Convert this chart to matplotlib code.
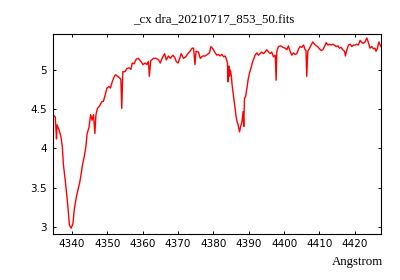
import matplotlib
matplotlib.use("Agg")
import matplotlib.pyplot as plt
from matplotlib.ticker import FuncFormatter

wavelength = [
    4334.8, 4335.3, 4335.65, 4335.8, 4336.4, 4336.9, 4337.3, 4337.6, 4338.1, 4338.6,
    4339.0, 4339.3, 4339.8, 4340.3, 4340.65, 4341.1, 4341.6, 4342.15, 4342.5, 4343.0,
    4343.6, 4344.0, 4344.3, 4344.8, 4345.3, 4345.7, 4346.1, 4346.5, 4346.8, 4347.2,
    4347.8, 4348.5, 4348.9, 4349.4, 4349.9, 4350.5, 4350.9, 4351.4, 4352.0, 4352.4,
    4352.9, 4353.5, 4353.85, 4354.1, 4354.4, 4355.0, 4355.55, 4356.1, 4356.7, 4357.05,
    4357.6, 4358.2, 4358.8, 4359.5, 4360.1, 4360.7, 4361.2, 4361.65, 4361.9, 4362.3,
    4363.1, 4363.8, 4364.5, 4365.0, 4365.4, 4366.2, 4366.7, 4367.3, 4367.8, 4368.55,
    4369.1, 4369.5, 4370.05, 4370.4, 4370.9, 4371.55, 4372.2, 4372.8, 4373.4, 4374.0,
    4374.4, 4374.8, 4375.1, 4375.8, 4376.3, 4377.0, 4377.7, 4378.3, 4378.9, 4379.3,
    4379.9, 4380.5, 4381.0, 4381.4, 4381.9, 4382.4, 4382.9, 4383.3, 4383.6, 4384.0,
    4384.1, 4384.4, 4384.55, 4384.8, 4385.1, 4385.3, 4385.6, 4385.9, 4386.2, 4386.45,
    4386.7, 4387.0, 4387.4, 4387.7, 4388.1, 4388.4, 4388.6, 4388.8, 4389.1, 4389.5,
    4389.8, 4390.2, 4390.6, 4391.0, 4391.3, 4391.8, 4392.3, 4392.75, 4393.2, 4393.7,
    4394.2, 4394.6, 4395.1, 4395.6, 4396.1, 4396.5, 4397.0, 4397.5, 4397.75, 4397.95,
    4398.4, 4399.1, 4399.65, 4400.3, 4400.8, 4401.2, 4401.7, 4402.2, 4402.6, 4403.1,
    4403.6, 4404.1, 4404.5, 4405.0, 4405.5, 4405.95, 4406.2, 4406.4, 4406.7, 4407.2,
    4407.65, 4408.1, 4408.6, 4409.1, 4409.5, 4410.0, 4410.5, 4410.96, 4411.4, 4411.9,
    4412.4, 4412.8, 4413.3, 4413.8, 4414.2, 4414.7, 4415.2, 4415.65, 4416.1, 4416.6,
    4417.1, 4417.35, 4417.7, 4418.2, 4418.7, 4419.15, 4419.6, 4420.1, 4420.6, 4421.0,
    4421.5, 4422.0, 4422.4, 4422.9, 4423.4, 4423.85, 4424.3, 4424.8, 4425.3, 4425.7,
    4426.0, 4426.4, 4426.8, 4427.15, 4427.4,
]
flux = [
    4.42, 4.40, 4.12, 4.30, 4.23, 4.15, 4.02, 3.79, 3.60, 3.38,
    3.19, 3.02, 2.98, 3.04, 3.21, 3.34, 3.45, 3.55, 3.64, 3.79,
    3.92, 4.04, 4.19, 4.26, 4.43, 4.36, 4.43, 4.19, 4.43, 4.51,
    4.54, 4.60, 4.60, 4.68, 4.77, 4.79, 4.77, 4.85, 4.92, 4.94,
    4.92, 4.90, 4.88, 4.51, 4.98, 4.98, 5.02, 5.03, 5.01, 5.09,
    5.08, 5.14, 5.15, 5.11, 5.07, 5.09, 5.07, 5.11, 4.92, 5.12,
    5.15, 5.15, 5.13, 5.09, 5.14, 5.21, 5.13, 5.18, 5.15, 5.19,
    5.16, 5.11, 5.09, 5.14, 5.21, 5.15, 5.17, 5.21, 5.24, 5.28,
    5.28, 5.07, 5.24, 5.23, 5.15, 5.18, 5.18, 5.20, 5.22, 5.30,
    5.27, 5.22, 5.19, 5.20, 5.18, 5.20, 5.17, 5.18, 5.15, 5.09,
    4.85, 5.05, 4.92, 5.00, 4.92, 4.81, 4.70, 4.60, 4.49, 4.40,
    4.34, 4.30, 4.21, 4.28, 4.34, 4.47, 4.28, 4.64, 4.66, 4.77,
    4.87, 4.96, 5.02, 5.09, 5.13, 5.19, 5.22, 5.19, 5.21, 5.23,
    5.21, 5.23, 5.26, 5.23, 5.21, 5.23, 5.17, 5.19, 4.87, 5.24,
    5.30, 5.31, 5.29, 5.28, 5.26, 5.31, 5.24, 5.19, 5.22, 5.20,
    5.21, 5.27, 5.30, 5.29, 5.32, 5.26, 5.25, 4.92, 5.24, 5.28,
    5.32, 5.36, 5.33, 5.31, 5.30, 5.27, 5.25, 5.26, 5.30, 5.35,
    5.32, 5.33, 5.32, 5.33, 5.32, 5.30, 5.31, 5.28, 5.29, 5.26,
    5.24, 5.18, 5.25, 5.32, 5.33, 5.30, 5.32, 5.32, 5.33, 5.32,
    5.38, 5.35, 5.34, 5.36, 5.41, 5.35, 5.28, 5.30, 5.27, 5.28,
    5.24, 5.28, 5.36, 5.32, 5.30,
]
x_ticks = [4340, 4350, 4360, 4370, 4380, 4390, 4400, 4410, 4420]
y_ticks = [3, 3.5, 4, 4.5, 5]
title = "_cx dra_20210717_853_50.fits"
xlabel = "Angstrom"

fig = plt.figure(figsize=(4, 2.8), dpi=100)
ax = fig.add_axes([0.132, 0.1654, 0.8205, 0.7146])
ax.plot(wavelength, flux, color="#ff0000", lw=1.0)
ax.set_xlim(4334.6, 4427.4)
ax.set_ylim(2.91, 5.466)
ax.set_xticks(x_ticks)
ax.set_yticks(y_ticks)
ax.yaxis.set_major_formatter(FuncFormatter(lambda v, p: "%g" % v))
ax.tick_params(direction="in", length=2.2, width=0.7, top=True, right=True,
               labelsize=7.5, pad=4, colors="black")
for lab in ax.get_xticklabels() + ax.get_yticklabels():
    lab.set_family("DejaVu Sans")
for s in ax.spines.values():
    s.set_linewidth(0.8)
fig.text(0.535, 0.93, title, ha="center", va="center", fontsize=9.3,
         family="Liberation Serif")
fig.text(0.958, 0.065, xlabel, ha="right", va="center", fontsize=9.3,
         family="Liberation Serif")
fig.savefig("out.png", dpi=100)
